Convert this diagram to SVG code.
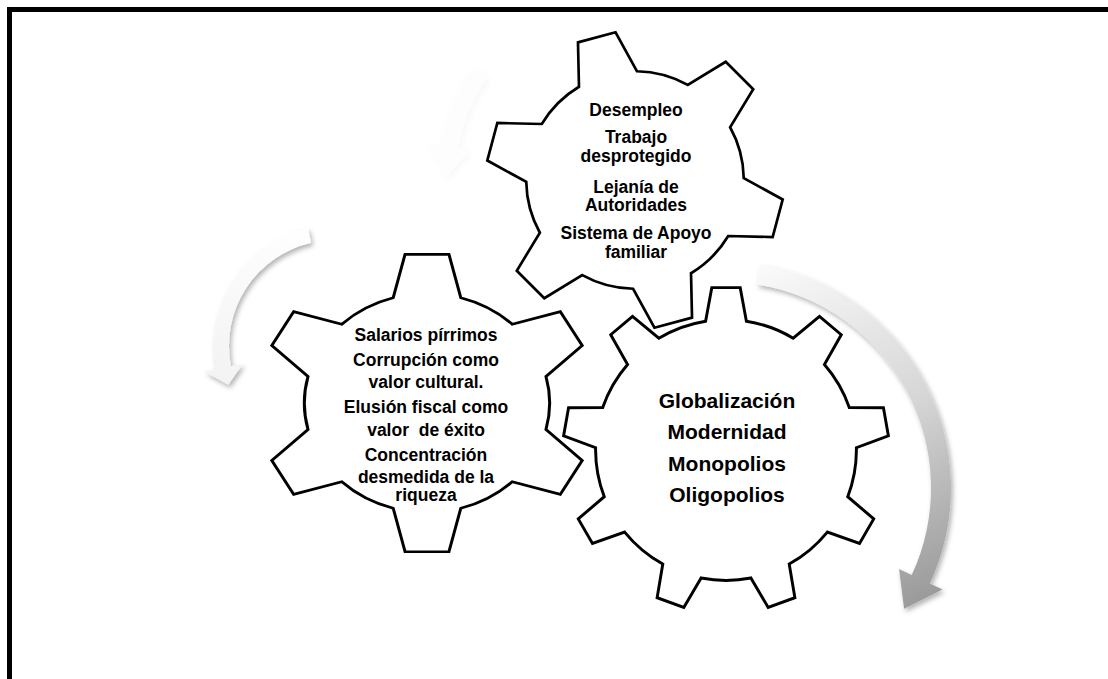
<svg xmlns="http://www.w3.org/2000/svg" width="1108" height="679" viewBox="0 0 1108 679">
  <style>
    .gear { fill: #ffffff; stroke: #000000; stroke-width: 1.8; stroke-linejoin: miter; }
    .t { font-family: "Liberation Sans", Arial, sans-serif; font-weight: bold; fill: #000000; text-anchor: middle; white-space: pre; }
    .t18 { font-size: 17.5px; }
    .t21 { font-size: 21px; }
  </style>
  <defs>
    <path id="gear6" d="M70.17,-20.12 L99.14,-13.05 L99.14,13.05 L70.17,20.12 A73,73 0 0 1 52.51,50.71 L60.88,79.34 L38.27,92.39 L17.66,70.83 A73,73 0 0 1 -17.66,70.83 L-38.27,92.39 L-60.88,79.34 L-52.51,50.71 A73,73 0 0 1 -70.17,20.12 L-99.14,13.05 L-99.14,-13.05 L-70.17,-20.12 A73,73 0 0 1 -52.51,-50.71 L-60.88,-79.34 L-38.27,-92.39 L-17.66,-70.83 A73,73 0 0 1 17.66,-70.83 L38.27,-92.39 L60.88,-79.34 L52.51,-50.71 A73,73 0 0 1 70.17,-20.12 Z"/>
    <path id="gear9" d="M79.02,-12.51 L99.62,-8.72 L99.62,8.72 L79.02,12.51 A80,80 0 0 1 68.57,41.20 L81.92,57.36 L70.71,70.71 L52.48,60.38 A80,80 0 0 1 26.05,75.64 L25.88,96.59 L8.72,99.62 L1.40,79.99 A80,80 0 0 1 -28.67,74.69 L-42.26,90.63 L-57.36,81.92 L-50.35,62.17 A80,80 0 0 1 -69.97,38.78 L-90.63,42.26 L-96.59,25.88 L-78.53,15.26 A80,80 0 0 1 -78.53,-15.26 L-96.59,-25.88 L-90.63,-42.26 L-69.97,-38.78 A80,80 0 0 1 -50.35,-62.17 L-57.36,-81.92 L-42.26,-90.63 L-28.67,-74.69 A80,80 0 0 1 1.40,-79.99 L8.72,-99.62 L25.88,-96.59 L26.05,-75.64 A80,80 0 0 1 52.48,-60.38 L70.71,-70.71 L81.92,-57.36 L68.57,-41.20 A80,80 0 0 1 79.02,-12.51 Z"/>
    <linearGradient id="gRight" gradientUnits="userSpaceOnUse" x1="770" y1="262" x2="925" y2="600">
      <stop offset="0" stop-color="#fafafa"/>
      <stop offset="0.5" stop-color="#d6d6d6"/>
      <stop offset="1" stop-color="#9a9a9a"/>
    </linearGradient>
    <linearGradient id="gLeft" gradientUnits="userSpaceOnUse" x1="305" y1="228" x2="225" y2="385">
      <stop offset="0" stop-color="#ffffff"/>
      <stop offset="1" stop-color="#f3f3f3"/>
    </linearGradient>
    <filter id="shadow" x="-20%" y="-20%" width="140%" height="140%">
      <feDropShadow dx="2" dy="3" stdDeviation="2.5" flood-color="#000000" flood-opacity="0.3"/>
    </filter>
    <filter id="shadowFaint" x="-20%" y="-20%" width="140%" height="140%">
      <feDropShadow dx="2" dy="3" stdDeviation="3" flood-color="#000000" flood-opacity="0.03"/>
    </filter>
  </defs>

  <rect x="9.5" y="9.5" width="1200" height="800" fill="none" stroke="#000000" stroke-width="5"/>

  <g id="connectors">
    <path id="arrow-right" filter="url(#shadow)" fill="url(#gRight)" d="M760.3,264.8 A226,226 0 0 1 929.8,583.5 L942.5,589.4 L904.1,608.8 L899.0,569.1 L911.7,575.1 A206,206 0 0 0 757.2,284.5 Z"/>
    <path id="arrow-left" filter="url(#shadow)" fill="url(#gLeft)" d="M307.8,228.1 A121,121 0 0 0 216.2,369.1 L204.4,371.4 L228.3,384.8 L242.7,363.9 L230.9,366.2 A106,106 0 0 1 311.1,242.7 Z"/>
    <path id="arrow-top" filter="url(#shadowFaint)" fill="#fdfdfd" d="M472.8,66.4 A198,198 0 0 0 440.0,145.6 L428.2,143.5 L446.0,176.7 L469.6,150.8 L457.7,148.8 A180,180 0 0 1 487.5,76.8 Z"/>
  </g>

  <g id="gear-top">
    <use href="#gear6" class="gear" vector-effect="non-scaling-stroke" transform="translate(635,180) scale(1.49) rotate(15)"/>
    <text class="t t18" x="636" y="116">Desempleo</text>
    <text class="t t18" x="636" y="143">Trabajo</text>
    <text class="t t18" x="636" y="161.5">desprotegido</text>
    <text class="t t18" x="636" y="192.5">Lejanía de</text>
    <text class="t t18" x="636" y="211">Autoridades</text>
    <text class="t t18" x="636" y="239">Sistema de Apoyo</text>
    <text class="t t18" x="636" y="257.5">familiar</text>
  </g>

  <g id="gear-left">
    <use href="#gear6" class="gear" vector-effect="non-scaling-stroke" transform="translate(427,403) scale(1.68,1.5) rotate(30)"/>
    <text class="t t18" x="426" y="341">Salarios pírrimos</text>
    <text class="t t18" x="426" y="366">Corrupción como</text>
    <text class="t t18" x="426" y="388">valor cultural.</text>
    <text class="t t18" x="426" y="413">Elusión fiscal como</text>
    <text class="t t18" x="426" y="436">valor  de éxito</text>
    <text class="t t18" x="426" y="461">Concentración</text>
    <text class="t t18" x="426" y="483">desmedida de la</text>
    <text class="t t18" x="426" y="501">riqueza</text>
  </g>

  <g id="gear-right">
    <use href="#gear9" class="gear" vector-effect="non-scaling-stroke" transform="translate(726,450) scale(1.63) rotate(-90)"/>
    <text class="t t21" x="727" y="408">Globalización</text>
    <text class="t t21" x="727" y="439">Modernidad</text>
    <text class="t t21" x="727" y="471">Monopolios</text>
    <text class="t t21" x="727" y="502">Oligopolios</text>
  </g>
</svg>
